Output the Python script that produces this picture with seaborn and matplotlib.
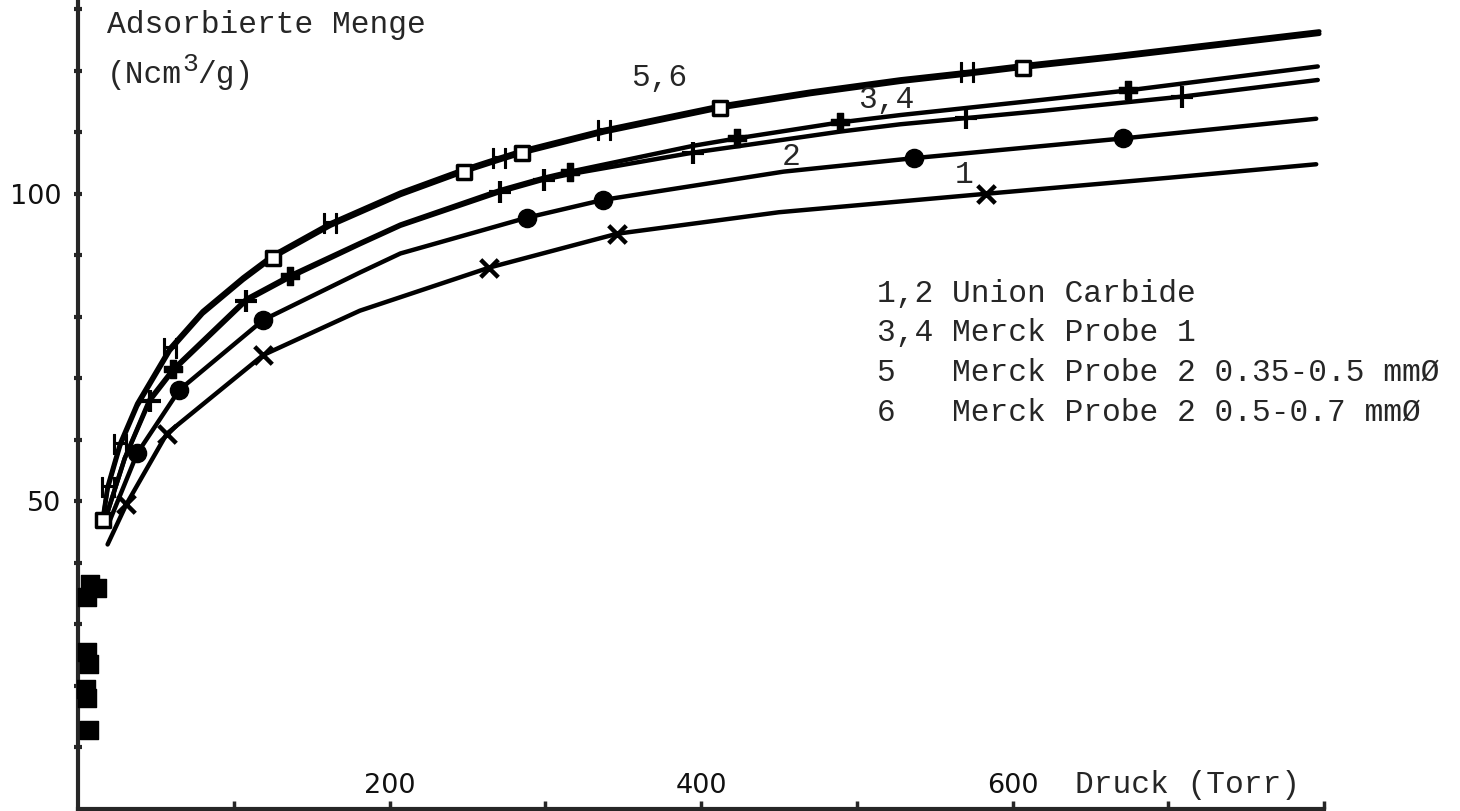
import matplotlib
matplotlib.use("Agg")
import matplotlib.pyplot as plt
import seaborn as sns
from matplotlib.ticker import FixedLocator, FixedFormatter

# ---------------- data ----------------
# curve 1 (Union Carbide)
p1 = [19, 31, 57, 119, 181, 264, 346, 450, 583, 700, 795]
v1 = [43.0, 49.5, 61.0, 73.8, 81.0, 88.0, 93.5, 97.0, 100.0, 102.6, 104.8]
mk1 = [1, 2, 3, 5, 6, 8]
# curve 2 (Union Carbide)
p2 = [19, 38, 65, 119, 181, 207, 288, 337, 453, 537, 671, 795]
v2 = [46.0, 57.8, 68.1, 79.5, 87.2, 90.3, 96.1, 99.0, 103.6, 105.8, 109.0, 112.2]
mk2 = [1, 2, 3, 6, 7, 9, 10]
# curve 3 (Merck Probe 1)
p3 = [18, 30, 46, 61, 108, 136, 181, 207, 271, 299, 316, 395, 423, 489, 528, 620, 674, 796]
v3 = [47.5, 57.0, 66.6, 71.5, 82.9, 86.7, 92.0, 95.0, 100.6, 102.6, 103.6, 107.8, 109.0,
      111.6, 112.8, 115.3, 116.8, 120.7]
mk3 = [3, 5, 10, 12, 13, 16]
# curve 4 (Merck Probe 1)
p4 = [18, 30, 46, 61, 108, 136, 181, 207, 271, 299, 316, 395, 423, 489, 528, 570, 620, 674, 709, 796]
v4 = [47.5, 57.0, 66.3, 71.2, 82.6, 86.4, 91.8, 94.8, 100.3, 102.3, 103.2, 106.7, 107.7,
      110.1, 111.3, 112.3, 113.5, 114.9, 115.8, 118.5]
mk4 = [2, 4, 8, 9, 11, 15, 18]
# curves 5 and 6 (Merck Probe 2)
p56 = [16, 19, 27, 38, 59, 80, 106, 125, 162, 207, 248, 270, 285, 338, 412, 470, 528,
       571, 607, 666, 730, 797]
v5 = [47.0, 52.0, 59.0, 65.5, 74.5, 80.5, 86.0, 89.6, 94.8, 99.8, 103.6, 105.4, 106.6,
      110.0, 113.9, 116.2, 118.2, 119.4, 120.5, 122.1, 124.0, 126.0]
v6 = [47.3, 52.4, 59.4, 65.9, 74.9, 80.9, 86.4, 90.0, 95.2, 100.2, 104.0, 105.8, 107.0,
      110.4, 114.3, 116.6, 118.6, 119.8, 120.9, 122.5, 124.4, 126.4]
mk5 = [0, 7, 10, 12, 14, 18]
mk6 = [1, 2, 4, 8, 11, 13, 17]
# first (low pressure) measuring points near the axis
low_p = [6, 8, 12, 6, 7, 5, 6, 7]
low_v = [34.5, 36.5, 36.0, 25.5, 23.5, 19.5, 18.0, 12.8]

x_ticks = [100, 200, 300, 400, 500, 600, 700, 800]
x_labels = ["", "200", "", "400", "", "600", "", ""]
y_ticks = [10, 20, 30, 40, 50, 60, 70, 80, 90, 100, 110, 120, 130]
y_labels = ["", "", "", "", "50", "", "", "", "", "100", "", "", ""]

curve_labels = [("5,6", 355, 118.9), ("3,4", 501, 115.3), ("2", 452, 105.9), ("1", 563, 103.1)]
legend_lines = ["1,2 Union Carbide", "3,4 Merck Probe 1",
                "5   Merck Probe 2 0.35-0.5 mm\u00d8", "6   Merck Probe 2 0.5-0.7 mm\u00d8"]

# ---------------- style ----------------
sns.set_style("ticks")
plt.rcParams["font.family"] = ["DejaVu Sans"]
MONO = "Liberation Mono"
FS = 22.5

fig = plt.figure(figsize=(14.6, 8.11), dpi=100)
ax = fig.add_axes([78 / 1460, 2 / 811, 1246 / 1460, 809 / 811])
ax.set_xlim(0, 800)
ax.set_ylim(0, 131.5)

curves = [(p1, v1), (p2, v2), (p3, v3), (p4, v4), (p56, v5), (p56, v6)]
for p, v in curves:
    sns.lineplot(x=p, y=v, color="black", lw=3.2, sort=False, estimator=None, ax=ax, zorder=2)


def marks(p, v, idx):
    return [p[i] for i in idx], [v[i] for i in idx]


x, y = marks(p1, v1, mk1)
sns.scatterplot(x=x, y=y, marker="x", s=160, color="black", linewidth=3.2, ax=ax, zorder=3)
x, y = marks(p2, v2, mk2)
sns.scatterplot(x=x, y=y, marker="o", s=170, color="black", edgecolor="black", ax=ax, zorder=3)
x, y = marks(p3, v3, mk3)
sns.scatterplot(x=x, y=y, marker="P", s=170, color="black", edgecolor="black", ax=ax, zorder=3)
x, y = marks(p4, v4, mk4)
sns.scatterplot(x=x, y=y, marker="+", s=230, color="black", linewidth=3, ax=ax, zorder=3)
x, y = marks(p56, v5, mk5)
sns.scatterplot(x=x, y=y, marker="s", s=110, facecolor="white", edgecolor="black",
                linewidth=2.5, ax=ax, zorder=3)
x, y = marks(p56, v6, mk6)
sns.scatterplot(x=x, y=y, marker=r"$\mathrm{H}$", s=200, color="black", edgecolor="black",
                linewidth=0.8, ax=ax, zorder=3)
sns.scatterplot(x=low_p, y=low_v, marker="s", s=160, color="black", edgecolor="black",
                ax=ax, zorder=3, clip_on=False)

# ---------------- axes ----------------
sns.despine(ax=ax)
for s in ("left", "bottom"):
    ax.spines[s].set_linewidth(3)
ax.xaxis.set_major_locator(FixedLocator(x_ticks))
ax.xaxis.set_major_formatter(FixedFormatter(x_labels))
ax.yaxis.set_major_locator(FixedLocator(y_ticks))
ax.yaxis.set_major_formatter(FixedFormatter(y_labels))
ax.tick_params(axis="x", direction="in", length=6, width=2.5, pad=-26, labelsize=19.5,
               labelcolor="#111111")
ax.tick_params(axis="y", direction="inout", length=6, width=3, pad=9, labelsize=19.5,
               labelcolor="#111111")
ax.set_xlabel("")
ax.set_ylabel("")

ax.text(640, 3.9, "Druck (Torr)", family=MONO, fontsize=FS, va="center", ha="left")
ax.text(0.0233, 0.969, "Adsorbierte Menge", family=MONO, fontsize=FS, va="center",
        ha="left", transform=ax.transAxes)
# "(Ncm" + raised "3" + "/g)"
ax.annotate("(Ncm", xy=(0.0233, 0.907), xycoords="axes fraction", family=MONO,
            fontsize=FS, va="center", ha="left")
ax.annotate("3", xy=(0.0233, 0.907), xycoords="axes fraction", xytext=(75, 11),
            textcoords="offset pixels", family=MONO, fontsize=19, va="center", ha="left")
ax.annotate("/g)", xy=(0.0233, 0.907), xycoords="axes fraction", xytext=(90, 0),
            textcoords="offset pixels", family=MONO, fontsize=FS, va="center", ha="left")

for txt, px, pv in curve_labels:
    ax.text(px, pv, txt, family=MONO, fontsize=FS, va="center", ha="left", zorder=4)

for i, line in enumerate(legend_lines):
    ax.text(0.641, 0.637 - i * 0.0491, line, family=MONO, fontsize=FS, va="center",
            ha="left", transform=ax.transAxes)

fig.savefig("out.png", dpi=100, facecolor="white")
